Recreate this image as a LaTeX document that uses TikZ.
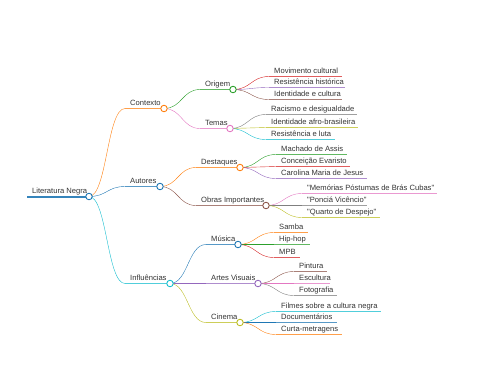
\documentclass[tikz,border=0pt]{standalone}
\usepackage{fontspec}
\usepackage{tikz}
\usetikzlibrary{backgrounds}
\newfontfamily\mmfont{Liberation Sans}
\definecolor{mmtext}{RGB}{51,51,51}
\definecolor{cblue}{HTML}{1F77B4}
\definecolor{corange}{HTML}{FF7F0E}
\definecolor{cgreen}{HTML}{2CA02C}
\definecolor{cred}{HTML}{D62728}
\definecolor{cpurple}{HTML}{9467BD}
\definecolor{cbrown}{HTML}{8C564B}
\definecolor{cpink}{HTML}{E377C2}
\definecolor{cgray}{HTML}{7F7F7F}
\definecolor{colive}{HTML}{BCBD22}
\definecolor{ccyan}{HTML}{17BECF}
\tikzset{
  lbl/.style={anchor=base west, inner sep=0pt, xshift=5pt, yshift=3pt,
    font=\mmfont\fontsize{7.6}{9}\selectfont, text=mmtext},
  dot/.style={circle, fill=white, line width=0.9pt, minimum size=6.5pt, inner sep=0pt},
  uline/.style={line width=0.8pt, draw opacity=0.75},
  link/.style={line width=0.9pt, draw opacity=0.75,
    to path={.. controls +(18,0) and +(-18,0) .. (\tikztotarget)}}
}
\begin{document}
\begin{tikzpicture}[x=1pt, y=-1pt]
  \useasboundingbox (0,-0.5) rectangle (480,383.5);
  % ── anchor points: underline start (-s) and leaf end (-e) ────────────
  \coordinate (root-s) at (27,196);
  \coordinate (ctx-s) at (125,108);
  \coordinate (aut-s) at (125,186);
  \coordinate (inf-s) at (125,283);
  \coordinate (ori-s) at (200,89);
  \coordinate (tem-s) at (200,128);
  \coordinate (des-s) at (196,167);
  \coordinate (obr-s) at (196,205);
  \coordinate (mus-s) at (206,244);
  \coordinate (art-s) at (206,283);
  \coordinate (cin-s) at (206,322);
  % leaves of Origem
  \coordinate (mov-s) at (269,76);  \coordinate (mov-e) at (342,76);
  \coordinate (rhi-s) at (269,87);  \coordinate (rhi-e) at (345,87);
  \coordinate (idc-s) at (269,99);  \coordinate (idc-e) at (342,99);
  % leaves of Temas
  \coordinate (rac-s) at (266,114); \coordinate (rac-e) at (357,114);
  \coordinate (ida-s) at (266,127); \coordinate (ida-e) at (358,127);
  \coordinate (rel-s) at (266,139); \coordinate (rel-e) at (335,139);
  % leaves of Destaques
  \coordinate (mac-s) at (276,154); \coordinate (mac-e) at (347,154);
  \coordinate (con-s) at (276,166); \coordinate (con-e) at (350,166);
  \coordinate (car-s) at (276,178); \coordinate (car-e) at (367,178);
  % leaves of Obras Importantes
  \coordinate (mem-s) at (302,193); \coordinate (mem-e) at (437,193);
  \coordinate (pon-s) at (302,205); \coordinate (pon-e) at (367,205);
  \coordinate (qua-s) at (302,217); \coordinate (qua-e) at (380,217);
  % leaves of Música
  \coordinate (sam-s) at (274,232); \coordinate (sam-e) at (308,232);
  \coordinate (hip-s) at (274,244); \coordinate (hip-e) at (310,244);
  \coordinate (mpb-s) at (274,257); \coordinate (mpb-e) at (300,257);
  % leaves of Artes Visuais
  \coordinate (pin-s) at (294,271); \coordinate (pin-e) at (327,271);
  \coordinate (esc-s) at (294,283); \coordinate (esc-e) at (330,283);
  \coordinate (fot-s) at (294,295); \coordinate (fot-e) at (337,295);
  % leaves of Cinema
  \coordinate (fil-s) at (276,311); \coordinate (fil-e) at (381,311);
  \coordinate (doc-s) at (276,322); \coordinate (doc-e) at (337,322);
  \coordinate (cur-s) at (276,334); \coordinate (cur-e) at (342,334);

  % ── branch circles ────────────────────────────────────────────────────
  \node[dot, draw=cblue] (root) at (89,196) {};
  \node[dot, draw=corange] (ctx) at (164,108) {};
  \node[dot, draw=cblue] (aut) at (160,186) {};
  \node[dot, draw=ccyan] (inf) at (170,283) {};
  \node[dot, draw=cgreen] (ori) at (233,89) {};
  \node[dot, draw=cpink] (tem) at (230,128) {};
  \node[dot, draw=corange] (des) at (240,167) {};
  \node[dot, draw=cbrown] (obr) at (266,205) {};
  \node[dot, draw=cblue] (mus) at (238,244) {};
  \node[dot, draw=cpurple] (art) at (258,283) {};
  \node[dot, draw=colive] (cin) at (240,322) {};

  % ── labels ───────────────────────────────────────────────────────────
  \node[lbl] (root-t) at (root-s) {Literatura Negra};
  \node[lbl] (ctx-t) at (ctx-s) {Contexto};
  \node[lbl] (aut-t) at (aut-s) {Autores};
  \node[lbl] (inf-t) at (inf-s) {Influências};
  \node[lbl] (ori-t) at (ori-s) {Origem};
  \node[lbl] (tem-t) at (tem-s) {Temas};
  \node[lbl] (des-t) at (des-s) {Destaques};
  \node[lbl] (obr-t) at (obr-s) {Obras Importantes};
  \node[lbl] (mus-t) at (mus-s) {Música};
  \node[lbl] (art-t) at (art-s) {Artes Visuais};
  \node[lbl] (cin-t) at (cin-s) {Cinema};
  \node[lbl] (mov-t) at (mov-s) {Movimento cultural};
  \node[lbl] (rhi-t) at (rhi-s) {Resistência histórica};
  \node[lbl] (idc-t) at (idc-s) {Identidade e cultura};
  \node[lbl] (rac-t) at (rac-s) {Racismo e desigualdade};
  \node[lbl] (ida-t) at (ida-s) {Identidade afro-brasileira};
  \node[lbl] (rel-t) at (rel-s) {Resistência e luta};
  \node[lbl] (mac-t) at (mac-s) {Machado de Assis};
  \node[lbl] (con-t) at (con-s) {Conceição Evaristo};
  \node[lbl] (car-t) at (car-s) {Carolina Maria de Jesus};
  \node[lbl] (mem-t) at (mem-s) {"Memórias Póstumas de Brás Cubas"};
  \node[lbl] (pon-t) at (pon-s) {"Ponciá Vicêncio"};
  \node[lbl] (qua-t) at (qua-s) {"Quarto de Despejo"};
  \node[lbl] (sam-t) at (sam-s) {Samba};
  \node[lbl] (hip-t) at (hip-s) {Hip-hop};
  \node[lbl] (mpb-t) at (mpb-s) {MPB};
  \node[lbl] (pin-t) at (pin-s) {Pintura};
  \node[lbl] (esc-t) at (esc-s) {Escultura};
  \node[lbl] (fot-t) at (fot-s) {Fotografia};
  \node[lbl] (fil-t) at (fil-s) {Filmes sobre a cultura negra};
  \node[lbl] (doc-t) at (doc-s) {Documentários};
  \node[lbl] (cur-t) at (cur-s) {Curta-metragens};

  \begin{scope}[on background layer]
    % ── underlines ─────────────────────────────────────────────────────
    \draw[uline, cblue, line width=2pt, draw opacity=0.9] (root-s) -- (root.center);
    \draw[uline, corange, line width=1.1pt] (ctx-s) -- (ctx.center);
    \draw[uline, cblue, line width=1.1pt] (aut-s) -- (aut.center);
    \draw[uline, ccyan, line width=1.1pt] (inf-s) -- (inf.center);
    \draw[uline, cgreen] (ori-s) -- (ori.center);
    \draw[uline, cpink] (tem-s) -- (tem.center);
    \draw[uline, corange] (des-s) -- (des.center);
    \draw[uline, cbrown] (obr-s) -- (obr.center);
    \draw[uline, cblue] (mus-s) -- (mus.center);
    \draw[uline, cpurple] (art-s) -- (art.center);
    \draw[uline, colive] (cin-s) -- (cin.center);
    \draw[uline, cred] (mov-s) -- (mov-e);
    \draw[uline, cpurple] (rhi-s) -- (rhi-e);
    \draw[uline, cbrown] (idc-s) -- (idc-e);
    \draw[uline, cgray] (rac-s) -- (rac-e);
    \draw[uline, colive] (ida-s) -- (ida-e);
    \draw[uline, ccyan] (rel-s) -- (rel-e);
    \draw[uline, cgreen] (mac-s) -- (mac-e);
    \draw[uline, cred] (con-s) -- (con-e);
    \draw[uline, cpurple] (car-s) -- (car-e);
    \draw[uline, cpink] (mem-s) -- (mem-e);
    \draw[uline, cgray] (pon-s) -- (pon-e);
    \draw[uline, colive] (qua-s) -- (qua-e);
    \draw[uline, corange] (sam-s) -- (sam-e);
    \draw[uline, cgreen] (hip-s) -- (hip-e);
    \draw[uline, cred] (mpb-s) -- (mpb-e);
    \draw[uline, cbrown] (pin-s) -- (pin-e);
    \draw[uline, cpink] (esc-s) -- (esc-e);
    \draw[uline, cgray] (fot-s) -- (fot-e);
    \draw[uline, ccyan] (fil-s) -- (fil-e);
    \draw[uline, cblue] (doc-s) -- (doc-e);
    \draw[uline, corange] (cur-s) -- (cur-e);
    % ── links ──────────────────────────────────────────────────────────
    \draw[corange] (root.center) to[link, line width=1.2pt] (ctx-s);
    \draw[cblue] (root.center) to[link, line width=1.2pt] (aut-s);
    \draw[ccyan] (root.center) to[link, line width=1.2pt] (inf-s);
    \draw[cgreen] (ctx.center) to[link] (ori-s);
    \draw[cpink] (ctx.center) to[link] (tem-s);
    \draw[corange] (aut.center) to[link] (des-s);
    \draw[cbrown] (aut.center) to[link] (obr-s);
    \draw[cblue] (inf.center) to[link] (mus-s);
    \draw[cpurple] (inf.center) to[link] (art-s);
    \draw[colive] (inf.center) to[link] (cin-s);
    \draw[cred] (ori.center) to[link] (mov-s);
    \draw[cpurple] (ori.center) to[link] (rhi-s);
    \draw[cbrown] (ori.center) to[link] (idc-s);
    \draw[cgray] (tem.center) to[link] (rac-s);
    \draw[colive] (tem.center) to[link] (ida-s);
    \draw[ccyan] (tem.center) to[link] (rel-s);
    \draw[cgreen] (des.center) to[link] (mac-s);
    \draw[cred] (des.center) to[link] (con-s);
    \draw[cpurple] (des.center) to[link] (car-s);
    \draw[cpink] (obr.center) to[link] (mem-s);
    \draw[cgray] (obr.center) to[link] (pon-s);
    \draw[colive] (obr.center) to[link] (qua-s);
    \draw[corange] (mus.center) to[link] (sam-s);
    \draw[cgreen] (mus.center) to[link] (hip-s);
    \draw[cred] (mus.center) to[link] (mpb-s);
    \draw[cbrown] (art.center) to[link] (pin-s);
    \draw[cpink] (art.center) to[link] (esc-s);
    \draw[cgray] (art.center) to[link] (fot-s);
    \draw[ccyan] (cin.center) to[link] (fil-s);
    \draw[cblue] (cin.center) to[link] (doc-s);
    \draw[corange] (cin.center) to[link] (cur-s);
  \end{scope}
\end{tikzpicture}
\end{document}
